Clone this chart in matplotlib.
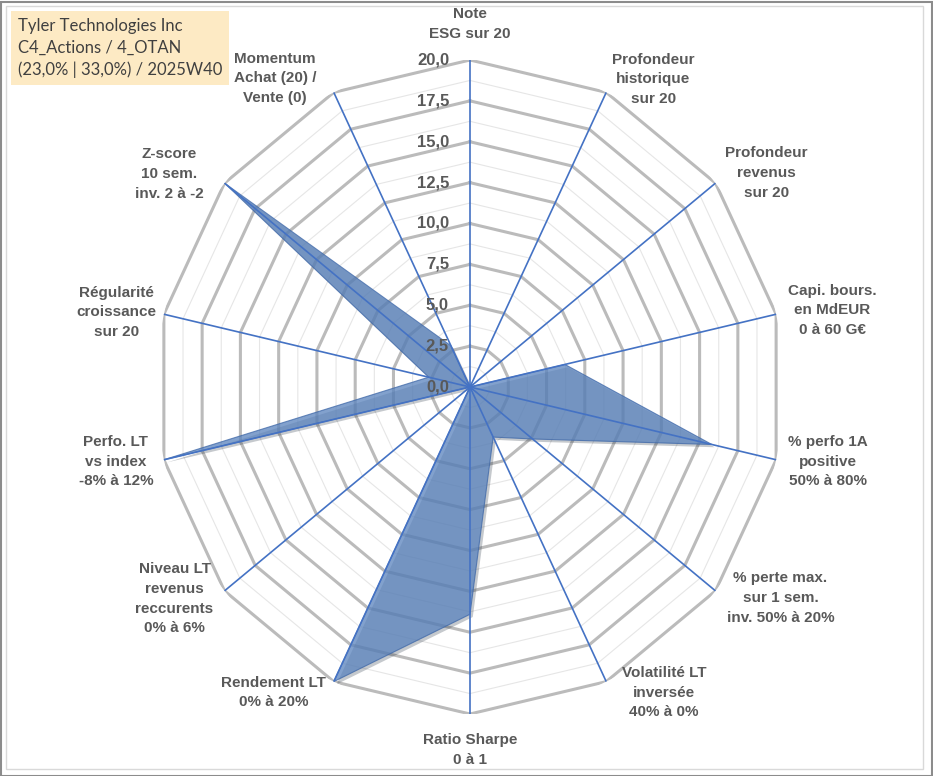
"""
Radar ESG / fondamentaux - Tyler Technologies Inc (C4_Actions / 4_OTAN, 2025W40).
Graphique en toile a 14 axes, notes ramenees sur 20.
"""
import numpy as np
import matplotlib
matplotlib.use("Agg")
import matplotlib.pyplot as plt
import matplotlib.patheffects as pe
from matplotlib.patches import Rectangle

# --- donnees -----------------------------------------------------------
criteres = [
    "Note\nESG sur 20",
    "Profondeur\nhistorique\nsur 20",
    "Profondeur\nrevenus\nsur 20",
    "Capi. bours.\nen MdEUR\n0 à 60 G€",
    "% perfo 1A\npositive\n50% à 80%",
    "% perte max.\nsur 1 sem.\ninv. 50% à 20%",
    "Volatilité LT\ninversée\n40% à 0%",
    "Ratio Sharpe\n0 à 1",
    "Rendement LT\n0% à 20%",
    "Niveau LT\nrevenus\nreccurents\n0% à 6%",
    "Perfo. LT\nvs index\n-8% à 12%",
    "Régularité\ncroissance\nsur 20",
    "Z-score\n10 sem.\ninv. 2 à -2",
    "Momentum\nAchat (20) /\nVente (0)",
]
notes = [0.0, 0.0, 0.0, 6.2, 15.8, 5.1, 3.4, 13.9, 20.0, 0.0, 20.0, 2.7, 20.0, 2.8]
graduations = [0.0, 2.5, 5.0, 7.5, 10.0, 12.5, 15.0, 17.5, 20.0]
titre = "Tyler Technologies Inc\nC4_Actions / 4_OTAN\n(23,0% | 33,0%) / 2025W40"

# decalage (px) des libelles par rapport a l'extremite de chaque axe
decalages = [(0, 36), (47, 13), (51, 10), (56, 4), (52, -2), (65, -7), (58, -11),
             (0, -36), (-60, -11), (-50, -8), (-48, -2), (-47, 2), (-55, 9), (-59, 14)]

GRIS_TXT = "#595959"
GRIS_GRILLE = "#BBBBBB"
BLEU = "#4472C4"

plt.rcParams["font.family"] = ["Liberation Sans", "DejaVu Sans"]

W, H = 933, 776
fig = plt.figure(figsize=(W / 100, H / 100), dpi=100)

# cadre
fig.add_artist(Rectangle((0.5 / W, 0.5 / H), 1 - 2 / W, 1 - 2 / H, transform=fig.transFigure,
                         fill=False, ec="#8C8C8C", lw=1.5))
fig.add_artist(Rectangle((6 / W, 7 / H), 917 / W, 763 / H, transform=fig.transFigure,
                         fill=False, ec="#D9D9D9", lw=1.0))

# axes polaires (legerement ovales comme l'original)
cx, cy = 470 / W, 1 - 387 / H
aw, ah = 628 / W, 654 / H
ax = fig.add_axes([cx - aw / 2, cy - ah / 2, aw, ah], projection="polar")
ax.set_aspect("auto")
ax.set_theta_zero_location("N")
ax.set_theta_direction(-1)
ax.set_ylim(0, 20)
ax.grid(False)
ax.set_xticks([])
ax.set_yticks([])
ax.spines["polar"].set_visible(False)
ax.patch.set_visible(False)

n = len(criteres)
angles = np.arange(n) * 2 * np.pi / n
ang_ferme = np.append(angles, angles[0])

# grille polygonale : secondaire puis principale
for g in np.arange(1.25, 20.01, 2.5):
    ax.plot(ang_ferme, [g] * (n + 1), color="#E6E6E6", lw=0.8, zorder=1)
for g in graduations[1:]:
    ax.plot(ang_ferme, [g] * (n + 1), color=GRIS_GRILLE, lw=2.2, zorder=1)

# serie
vals = np.append(notes, notes[0])
ax.fill(ang_ferme, vals, facecolor="#5B84BE", alpha=0.76, edgecolor="#3F68A8", lw=0.8, zorder=2,
        path_effects=[pe.SimplePatchShadow(offset=(2, -2), alpha=0.25), pe.Normal()])

# rayons
for a in angles:
    ax.plot([a, a], [0, 20], color=BLEU, lw=1.2, zorder=3)

# graduations radiales
for g in graduations:
    ax.annotate(f"{g:.1f}".replace(".", ","), xy=(0, g), xytext=(-21, 0),
                textcoords="offset pixels", ha="right", va="center",
                fontsize=12, fontweight="bold", color=GRIS_TXT, zorder=4)

# libelles des axes
for a, lab, (dx, dy) in zip(angles, criteres, decalages):
    ax.annotate(lab, xy=(a, 20), xytext=(dx, dy), textcoords="offset pixels",
                ha="center", va="center", multialignment="center", linespacing=1.52,
                fontsize=11, fontweight="bold", color=GRIS_TXT, annotation_clip=False)

# encart titre
fig.text(18 / W, 1 - 48 / H, titre, ha="left", va="center", fontsize=12, family="Lato",
         color="#404040", linespacing=1.45,
         bbox=dict(boxstyle="square,pad=0.4", fc="#FDEAC4", ec="none"))

fig.savefig("out.png", dpi=100)
